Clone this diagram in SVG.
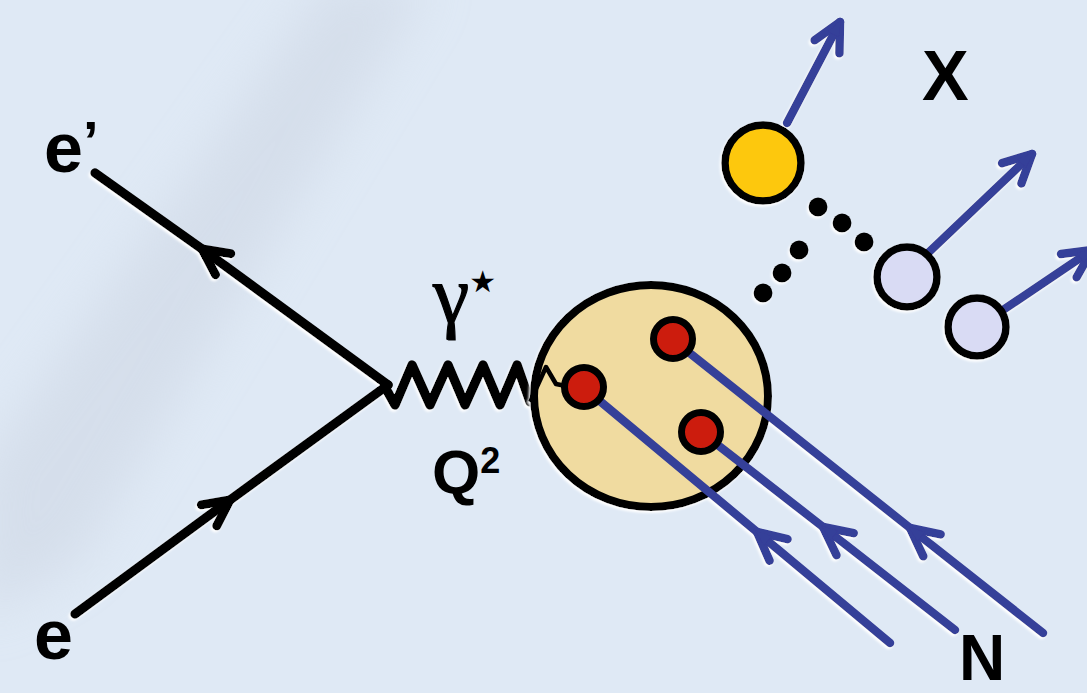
<svg xmlns="http://www.w3.org/2000/svg" width="1087" height="693" viewBox="0 0 1087 693">
  <style>
    .lbl { font-family: "Liberation Sans", Arial, sans-serif; font-weight: bold; fill: #000; }
    .ferm { stroke: #000; stroke-width: 9.5; fill: none; stroke-linecap: round; stroke-linejoin: round; }
    .blue { stroke: #353f99; stroke-width: 8.5; fill: none; stroke-linecap: round; stroke-linejoin: round; }
    .quark { fill: #cc1c10; stroke: #000; stroke-width: 7; }
    .dot { fill: #000; }
  </style>
  <defs>
    <filter id="halo" x="-20%" y="-20%" width="140%" height="140%">
      <feDropShadow dx="-1.5" dy="2" stdDeviation="0.9" flood-color="#ffffff" flood-opacity="1"/>
    </filter>
    <filter id="blur" x="-50%" y="-50%" width="200%" height="200%">
      <feGaussianBlur stdDeviation="25"/>
    </filter>
    <marker id="chevK" markerUnits="userSpaceOnUse" markerWidth="60" markerHeight="60" viewBox="-30 -30 60 60" refX="0" refY="0" orient="auto" overflow="visible">
      <path d="M -26 -13 L 0 0 L -26 13" fill="none" stroke="#000" stroke-width="9" stroke-linecap="round" stroke-linejoin="round"/>
      <path d="M -14 -6 L 2 0 L -14 6 Z" fill="#000"/>
    </marker>
    <marker id="chevB" markerUnits="userSpaceOnUse" markerWidth="60" markerHeight="60" viewBox="-30 -30 60 60" refX="0" refY="0" orient="auto" overflow="visible">
      <path d="M -28 -14 L 0 0 L -28 14" fill="none" stroke="#353f99" stroke-width="8.5" stroke-linecap="round" stroke-linejoin="round"/>
      <path d="M -14 -6 L 2 0 L -14 6 Z" fill="#353f99"/>
    </marker>
  </defs>

  <rect x="0" y="0" width="1087" height="693" fill="#dfe9f5"/>
  <path d="M 330 -20 L 430 -20 L 80 560 L -20 620 L -20 470 Z" fill="#cdd6e3" opacity="0.55" filter="url(#blur)"/>

  <g id="connectors" filter="url(#halo)">
    <path class="ferm" d="M 388 385 L 202 249 L 95 173" marker-mid="url(#chevK)"/>
    <path class="ferm" d="M 75 614 L 230 500 L 388 385" marker-mid="url(#chevK)"/>
    <polyline class="ferm" stroke-width="8.5" stroke-linejoin="miter" points="385,387 395,405 412,365 430,405 448,365 465,405 483,365 500,405 517,365 530,402"/>
  </g>

  <g id="nucleus" filter="url(#halo)">
    <ellipse cx="651" cy="396" rx="117" ry="111" fill="#f0dba0" stroke="#000" stroke-width="8"/>
    <polyline fill="none" stroke="#000" stroke-width="4.5" stroke-linejoin="round" points="530,402 546,367 556,384 566,386"/>
    <path class="blue" d="M 890 643 L 757 532 L 583 387" marker-mid="url(#chevB)"/>
    <path class="blue" d="M 955 630 L 823 527 L 701 432" marker-mid="url(#chevB)"/>
    <path class="blue" d="M 1043 633 L 910 528 L 672 339" marker-mid="url(#chevB)"/>
    <circle id="quark1" class="quark" cx="584" cy="387" r="19.5"/>
    <circle id="quark2" class="quark" cx="673" cy="339" r="19.5"/>
    <circle id="quark3" class="quark" cx="701" cy="432" r="19.5"/>
  </g>

  <g id="hadrons" filter="url(#halo)">
    <path class="blue" d="M 787 123 L 840 22" marker-end="url(#chevB)"/>
    <path class="blue" d="M 928 253 L 1032 154" marker-end="url(#chevB)"/>
    <path class="blue" d="M 1003 310 L 1092 250" marker-end="url(#chevB)"/>
    <circle id="hadron-yellow" cx="763" cy="163" r="38" fill="#fdc80f" stroke="#000" stroke-width="7.5"/>
    <circle id="hadron2" cx="907" cy="277" r="30" fill="#d9dbf4" stroke="#000" stroke-width="7.5"/>
    <circle id="hadron3" cx="977" cy="327" r="29" fill="#d9dbf4" stroke="#000" stroke-width="7.5"/>
    <circle class="dot" cx="818" cy="207" r="9.5"/>
    <circle class="dot" cx="842" cy="223" r="9.5"/>
    <circle class="dot" cx="864" cy="242" r="9.5"/>
    <circle class="dot" cx="799" cy="250" r="9.5"/>
    <circle class="dot" cx="782" cy="273" r="9.5"/>
    <circle class="dot" cx="763" cy="293" r="9.5"/>
  </g>

  <g id="labels">
    <text class="lbl" x="44" y="172" font-size="70">e<tspan font-size="56" dy="-12">’</tspan></text>
    <text class="lbl" x="34" y="659" font-size="70">e</text>
    <text class="lbl" x="922" y="100" font-size="70">X</text>
    <text class="lbl" x="959" y="680" font-size="64">N</text>
    <text x="433" y="322" font-family="'Liberation Serif', 'Times New Roman', serif" font-size="82" fill="#000" stroke="#000" stroke-width="1.2">γ<tspan font-family="'DejaVu Sans', sans-serif" font-size="30" stroke-width="0" dy="-30">★</tspan></text>
    <text class="lbl" x="432" y="493" font-size="62">Q<tspan font-size="36" dy="-20">2</tspan></text>
  </g>
</svg>
